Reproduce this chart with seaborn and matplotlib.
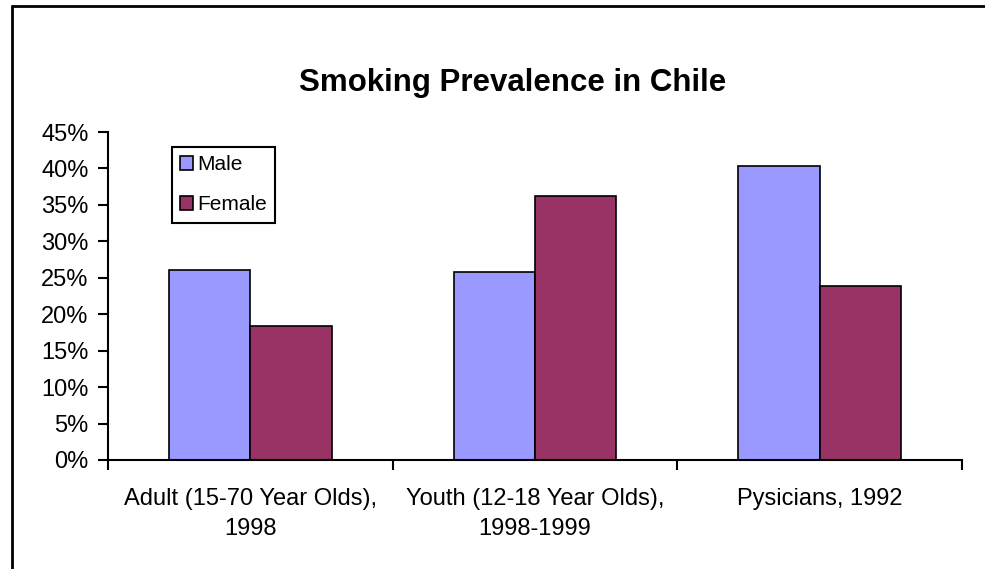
import pandas as pd
import seaborn as sns
import matplotlib.pyplot as plt
from matplotlib.lines import Line2D
from matplotlib.ticker import PercentFormatter

# values (share of population that smokes)
categories = ["Adult (15-70 Year Olds),\n1998",
              "Youth (12-18 Year Olds),\n1998-1999",
              "Pysicians, 1992"]
male = [0.260, 0.258, 0.403]
female = [0.184, 0.362, 0.239]
series = ["Male", "Female"]
colors = ["#9999FF", "#993366"]

df = pd.DataFrame({
    "group": categories * 2,
    "sex": ["Male"] * len(categories) + ["Female"] * len(categories),
    "value": male + female,
})

sns.set_style("white")
plt.rcParams['font.family'] = ['Liberation Sans', 'DejaVu Sans']
plt.rcParams['text.color'] = 'black'
plt.rcParams['xtick.color'] = 'black'
plt.rcParams['ytick.color'] = 'black'

fig = plt.figure(figsize=(9.85, 5.69), dpi=100)
ax = fig.add_axes([0.1096, 0.1916, 0.8670, 0.5764])

sns.barplot(data=df, x="group", y="value", hue="sex", hue_order=series,
            palette=colors, width=2 / 3.5, edgecolor="black", linewidth=1.2,
            saturation=1, errorbar=None, ax=ax)

ax.set_ylim(0, 0.45)
ax.set_xlim(-0.5, 2.5)
ax.set_yticks([i * 0.05 for i in range(10)])
ax.yaxis.set_major_formatter(PercentFormatter(1.0, decimals=0))

# Excel style: ticks at category boundaries, labels centered between them
ax.set_xticks([-0.5, 0.5, 1.5, 2.5])
ax.set_xticklabels([])
ax.set_xticks([0, 1, 2], minor=True)
ax.set_xticklabels(categories, minor=True, linespacing=1.5)
ax.tick_params(axis="x", which="major", direction="out", length=7, width=1.5, bottom=True)
ax.tick_params(axis="x", which="minor", length=0, pad=20, labelsize=17)
ax.tick_params(axis="y", direction="out", length=7, width=1.5, left=True, labelsize=17, pad=7)
ax.set_xlabel("")
ax.set_ylabel("")

for side in ["top", "right"]:
    ax.spines[side].set_visible(False)
for side in ["left", "bottom"]:
    ax.spines[side].set_color("black")
    ax.spines[side].set_linewidth(1.5)

leg = ax.legend(loc="upper left", bbox_to_anchor=(0.075, 0.954), borderaxespad=0,
                fancybox=False, edgecolor="black", framealpha=1, fontsize=15,
                handlelength=0.6, handleheight=0.6, handletextpad=0.2,
                labelspacing=1.0, borderpad=0.4)
leg.get_frame().set_linewidth(1.5)
for h in leg.legend_handles:
    h.set_edgecolor("black")
    h.set_linewidth(1.2)

fig.text(0.52, 1 - 83 / 569, "Smoking Prevalence in Chile", ha="center", va="center",
         fontsize=22.5, fontweight="bold")

# chart-area frame (only top and left edges fall inside the picture)
fig.add_artist(Line2D([12 / 985, 12 / 985], [0, 1 - 6 / 569], color="black", lw=2,
                      transform=fig.transFigure))
fig.add_artist(Line2D([12 / 985, 1], [1 - 6 / 569, 1 - 6 / 569], color="black", lw=2,
                      transform=fig.transFigure))

fig.savefig("out.png", dpi=100)
